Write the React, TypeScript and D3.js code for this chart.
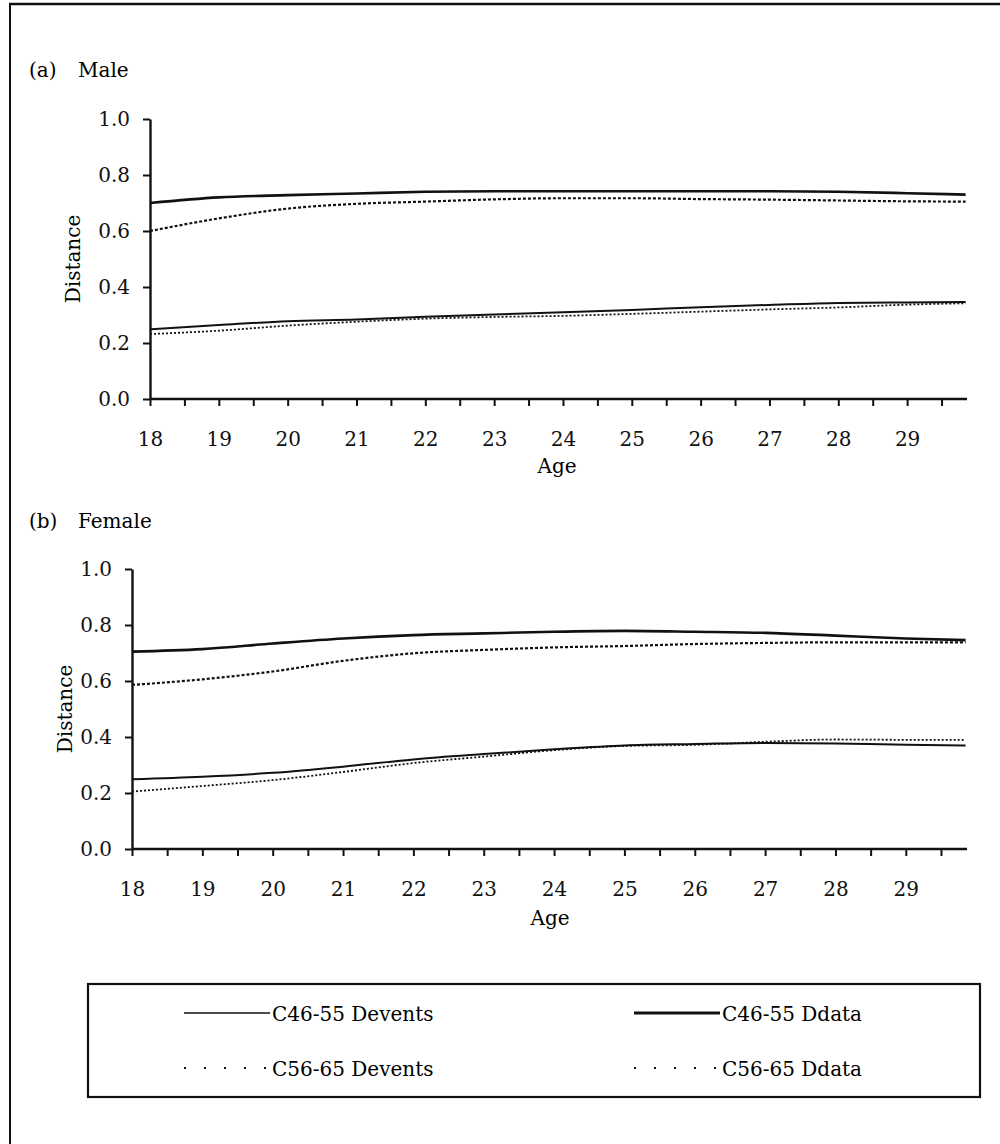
import React, {useEffect, useRef} from 'react';
import * as d3 from 'd3';

// ages (last point is the end of the axis)
const ages = [18, 19, 20, 21, 22, 23, 24, 25, 26, 27, 28, 29, 29.85];

// (a) Male
const maleC46Ddata = [0.700, 0.720, 0.728, 0.734, 0.740, 0.742, 0.742, 0.742, 0.742, 0.742, 0.740, 0.735, 0.730];
const maleC56Ddata = [0.600, 0.645, 0.680, 0.697, 0.705, 0.713, 0.717, 0.717, 0.714, 0.712, 0.709, 0.706, 0.705];
const maleC46Devents = [0.249, 0.264, 0.278, 0.284, 0.294, 0.302, 0.310, 0.318, 0.328, 0.336, 0.343, 0.345, 0.346];
const maleC56Devents = [0.232, 0.244, 0.262, 0.276, 0.287, 0.293, 0.297, 0.304, 0.312, 0.320, 0.327, 0.337, 0.342];

// (b) Female
const femaleC46Ddata = [0.705, 0.714, 0.734, 0.752, 0.764, 0.770, 0.776, 0.779, 0.776, 0.772, 0.762, 0.752, 0.746];
const femaleC56Ddata = [0.586, 0.606, 0.634, 0.672, 0.699, 0.711, 0.720, 0.725, 0.732, 0.736, 0.738, 0.738, 0.738];
const femaleC46Devents = [0.249, 0.258, 0.272, 0.294, 0.320, 0.339, 0.356, 0.370, 0.375, 0.379, 0.377, 0.372, 0.370];
const femaleC56Devents = [0.205, 0.225, 0.246, 0.275, 0.307, 0.330, 0.353, 0.368, 0.372, 0.383, 0.391, 0.390, 0.390];

const yTicks = [0, 0.2, 0.4, 0.6, 0.8, 1.0];
const xTicks = d3.range(18, 29.51, 0.5);

const legendLabels = ['C46-55 Devents', 'C46-55 Ddata', 'C56-65 Devents', 'C56-65 Ddata'];

const FONT = '"DejaVu Serif", "Liberation Serif", serif';
const FS = 20;
const INK = '#111';

// line styles for Devents (thin) / Ddata (thick), solid / dotted
const styles = {
  c46Devents: {width: 2, dash: null},
  c46Ddata: {width: 2.6, dash: null},
  c56Devents: {width: 1.8, dash: '2,2'},
  c56Ddata: {width: 2.2, dash: '3,2'}
};

const panels = [
  {
    letter: '(a)', title: 'Male',
    left: 150, right: 967, top: 119, bottom: 399,
    titleY: 77, tickLabelY: 446, ageY: 473, ageX: 557, distX: 80,
    series: [
      {values: maleC46Ddata, style: styles.c46Ddata},
      {values: maleC56Ddata, style: styles.c56Ddata},
      {values: maleC46Devents, style: styles.c46Devents},
      {values: maleC56Devents, style: styles.c56Devents}
    ]
  },
  {
    letter: '(b)', title: 'Female',
    left: 132, right: 967, top: 569, bottom: 849,
    titleY: 528, tickLabelY: 896, ageY: 925, ageX: 550, distX: 72,
    series: [
      {values: femaleC46Ddata, style: styles.c46Ddata},
      {values: femaleC56Ddata, style: styles.c56Ddata},
      {values: femaleC46Devents, style: styles.c46Devents},
      {values: femaleC56Devents, style: styles.c56Devents}
    ]
  }
];

const App = () => {
  const ref = useRef<SVGSVGElement>(null);

  useEffect(() => {
    const svg = d3.select(ref.current);
    svg.selectAll('*').remove();

    // outer frame: left and top rules only
    svg.append('line').attr('x1', 10).attr('x2', 10).attr('y1', 3).attr('y2', 1144)
      .attr('stroke', INK).attr('stroke-width', 2);
    svg.append('line').attr('x1', 9).attr('x2', 1000).attr('y1', 4).attr('y2', 4)
      .attr('stroke', INK).attr('stroke-width', 2.5);

    panels.forEach(p => {
      const x = d3.scaleLinear().domain([18, 29.87]).range([p.left, p.right]);
      const y = d3.scaleLinear().domain([0, 1]).range([p.bottom, p.top]);
      const g = svg.append('g');

      g.append('text')
        .attr('x', 29).attr('y', p.titleY)
        .attr('font-family', FONT).attr('font-size', FS)
        .text(p.letter);
      g.append('text')
        .attr('x', 78).attr('y', p.titleY)
        .attr('font-family', FONT).attr('font-size', FS)
        .text(p.title);

      // x axis
      const xAxis = d3.axisBottom(x)
        .tickValues(xTicks)
        .tickSize(7)
        .tickSizeOuter(0)
        .tickFormat(d => (Number(d) % 1 === 0 ? String(d) : ''));
      const gx = g.append('g')
        .attr('transform', `translate(0, ${p.bottom})`)
        .call(xAxis);
      gx.select('.domain').attr('stroke', INK).attr('stroke-width', 2.4)
        .attr('d', `M${p.left},0H${p.right}`);
      gx.selectAll('.tick line').attr('stroke', INK).attr('stroke-width', 2);
      gx.selectAll('.tick text')
        .attr('font-family', FONT).attr('font-size', FS).attr('fill', INK)
        .attr('y', p.tickLabelY - p.bottom).attr('dy', 0);

      // y axis
      const yAxis = d3.axisLeft(y)
        .tickValues(yTicks)
        .tickSize(7)
        .tickSizeOuter(0)
        .tickFormat(d3.format('.1f'));
      const gy = g.append('g')
        .attr('transform', `translate(${p.left}, 0)`)
        .call(yAxis);
      gy.select('.domain').attr('stroke', INK).attr('stroke-width', 2.4);
      gy.selectAll('.tick line').attr('stroke', INK).attr('stroke-width', 2);
      gy.selectAll('.tick text')
        .attr('font-family', FONT).attr('font-size', FS).attr('fill', INK)
        .attr('x', -20);

      g.append('text')
        .attr('x', p.ageX).attr('y', p.ageY)
        .attr('text-anchor', 'middle')
        .attr('font-family', FONT).attr('font-size', FS)
        .text('Age');

      g.append('text')
        .attr('transform', `translate(${p.distX}, ${(p.top + p.bottom) / 2}) rotate(-90)`)
        .attr('text-anchor', 'middle')
        .attr('font-family', FONT).attr('font-size', FS)
        .text('Distance');

      const line = d3.line<number>()
        .x((d, i) => x(ages[i]))
        .y(d => y(d))
        .curve(d3.curveMonotoneX);

      p.series.forEach(s => {
        g.append('path')
          .datum(s.values)
          .attr('d', line)
          .attr('fill', 'none')
          .attr('stroke', INK)
          .attr('stroke-width', s.style.width)
          .attr('stroke-dasharray', s.style.dash);
      });
    });

    // legend
    const legend = svg.append('g');
    legend.append('rect')
      .attr('x', 88).attr('y', 984).attr('width', 892).attr('height', 113)
      .attr('fill', 'none').attr('stroke', INK).attr('stroke-width', 2.2);

    const legendStyles = [
      {width: 1.4, dash: null},
      {width: 3, dash: null},
      {width: 2, dash: '2,18'},
      {width: 2, dash: '2,18'}
    ];
    const legendPos = [[184, 1013], [634, 1013], [184, 1068], [634, 1068]];
    legendLabels.forEach((label, i) => {
      const [lx, ly] = legendPos[i];
      const st = legendStyles[i];
      legend.append('line')
        .attr('x1', lx).attr('x2', lx + 86).attr('y1', ly).attr('y2', ly)
        .attr('stroke', INK).attr('stroke-width', st.width)
        .attr('stroke-dasharray', st.dash);
      legend.append('text')
        .attr('x', lx + 88).attr('y', ly + 8)
        .attr('font-family', FONT).attr('font-size', FS)
        .text(label);
    });
  }, []);

  return (
    <svg
      ref={ref}
      width={1000}
      height={1144}
      style={{display: 'block', position: 'absolute', left: 0, top: 0}}
    />
  );
};

export default App;
